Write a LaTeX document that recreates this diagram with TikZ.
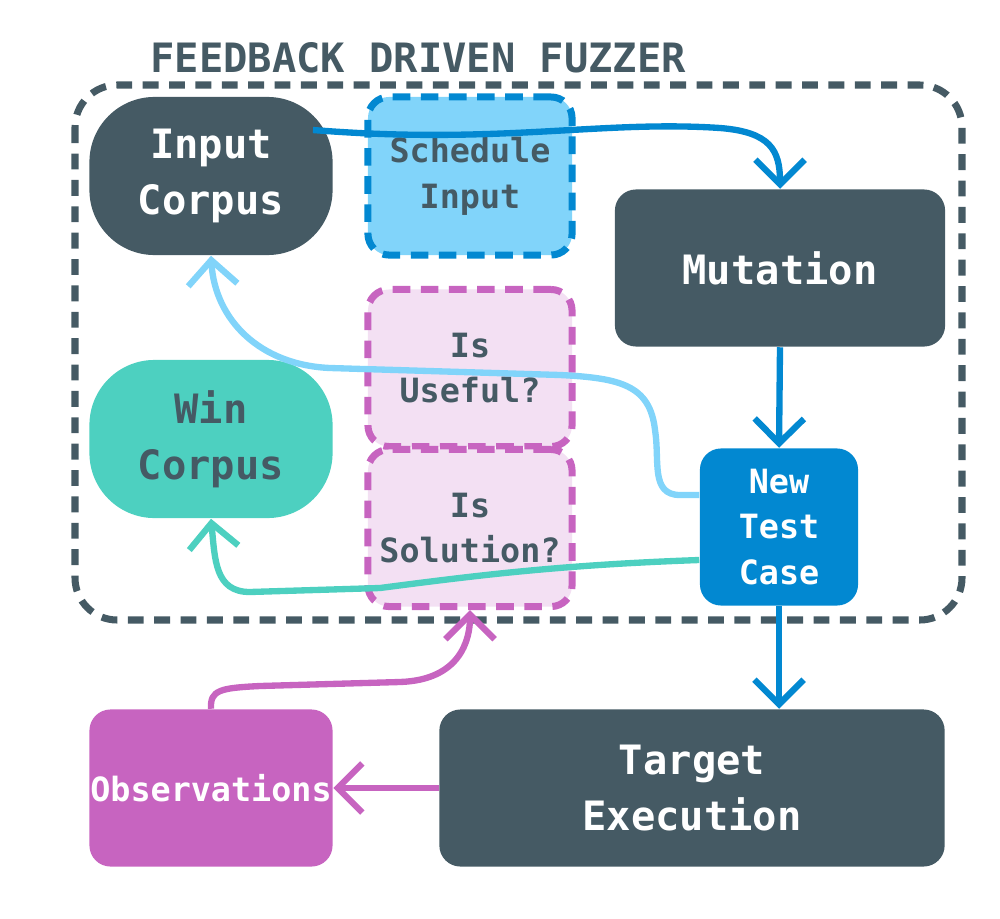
\documentclass[tikz,border=0pt]{standalone}
\usepackage{fontspec}
\setmainfont{DejaVu Sans Mono}
\usetikzlibrary{arrows.meta}
\definecolor{dark}{HTML}{455A64}
\definecolor{blu}{HTML}{0288D1}
\definecolor{lblu}{HTML}{81D4FA}
\definecolor{teal2}{HTML}{4DD0C0}
\definecolor{mag}{HTML}{C764C0}
\definecolor{pinkf}{HTML}{F3E0F3}
\begin{document}
\begin{tikzpicture}[x=0.01cm,y=-0.01cm,
  box/.style={inner sep=0pt,align=center,font=\bfseries},
  big/.style={font=\fontsize{11.5}{16}\selectfont\bfseries},
  small/.style={font=\fontsize{9.5}{13}\selectfont\bfseries},
  dbox/.style={box,small,line width=2pt,dash pattern=on 5pt off 3pt,rounded corners=6pt,text=dark,minimum width=2.04cm},
  arr/.style={line width=1.8pt,-{Straight Barb[length=7pt,width=14pt,line width=1.8pt]}}]
\useasboundingbox (0,0) rectangle (1000,918);
% frame and title
\draw[dark,line width=2pt,dash pattern=on 4.5pt off 3pt,rounded corners=12pt] (75,85) rectangle (962,620);
\node[dark,big,anchor=west] (title) at (138,58) {FEEDBACK DRIVEN FUZZER};
% nodes
\node[box,big,fill=dark,text=white,rounded corners=0.65cm,minimum width=2.43cm,minimum height=1.58cm] (inp) at (211,176) {Input\\Corpus};
\node[dbox,fill=lblu,draw=blu,minimum height=1.58cm] (sch) at (470,176) {Schedule\\Input};
\node[box,big,fill=dark,text=white,rounded corners=6pt,minimum width=3.3cm,minimum height=1.57cm] (mut) at (780,268) {Mutation};
\node[dbox,fill=pinkf,draw=mag,minimum height=1.57cm] (use) at (470,368) {Is\\Useful?};
\node[dbox,fill=pinkf,draw=mag,minimum height=1.57cm] (sol) at (470,528) {Is\\Solution?};
\node[box,big,fill=teal2,text=dark,rounded corners=0.65cm,minimum width=2.43cm,minimum height=1.58cm] (win) at (211,439) {Win\\Corpus};
\node[box,small,fill=blu,text=white,rounded corners=6pt,minimum width=1.58cm,minimum height=1.57cm] (ntc) at (779,527) {New\\Test\\Case};
\node[box,big,fill=dark,text=white,rounded corners=6pt,minimum width=5.05cm,minimum height=1.57cm] (tgt) at (692,788) {Target\\Execution};
\node[box,small,fill=mag,text=white,rounded corners=6pt,minimum width=2.43cm,minimum height=1.57cm] (obs) at (211,788) {Observations};
% connectors
\draw[arr,blu] (313,130) .. controls (500,145) and (600,120) .. (720,128) .. controls (770,132) and (780,150) .. (mut.north -| 780,0);
\draw[arr,blu] (mut.south) -- (ntc.north);
\draw[arr,blu] (ntc.south) -- (tgt.north -| ntc.south);
\draw[arr,lblu] (ntc.west |- 0,495) -- (680,495) .. controls (650,495) and (660,460) .. (655,430) .. controls (650,385) and (620,378) .. (560,375) -- (330,368) .. controls (260,365) and (215,320) .. (inp.south);
\draw[arr,teal2] (ntc.west |- 0,560) .. controls (560,565) and (480,575) .. (380,588) -- (250,592) .. controls (215,592) and (215,560) .. (win.south);
\draw[arr,mag] (obs.north) .. controls (210,690) and (220,688) .. (260,686) -- (400,682) .. controls (460,680) and (470,640) .. (sol.south);
\draw[arr,mag] (tgt.west) -- (obs.east);
\end{tikzpicture}
\end{document}
